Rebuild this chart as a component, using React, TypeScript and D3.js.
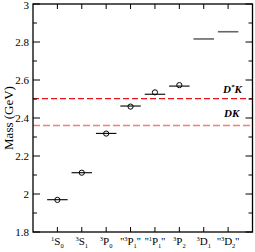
import React from "react";
import * as d3 from "d3";

// states on the x axis: [spin multiplicity, letter, subscript, quoted]
const states = [
  ["1", "S", "0", false],
  ["3", "S", "1", false],
  ["3", "P", "0", false],
  ["3", "P", "1", true],
  ["1", "P", "1", true],
  ["3", "P", "2", false],
  ["3", "D", "1", false],
  ["3", "D", "2", true],
] as const;

// theory masses (lines)
const lineMass = [1.97, 2.112, 2.319, 2.463, 2.525, 2.568, 2.816, 2.854];
// experimental masses (circles)
const expIndex = [0, 1, 2, 3, 4, 5];
const expMass = [1.969, 2.112, 2.318, 2.46, 2.535, 2.573];

const thresholds = [
  { name: "D*K", mass: 2.502 },
  { name: "DK", mass: 2.361 },
];

const yMajor = [1.8, 2, 2.2, 2.4, 2.6, 2.8, 3];

export default function App() {
  const width = 255;
  const height = 252;
  const margin = { top: 4, right: 2.5, bottom: 20, left: 33 };

  const x = d3.scaleLinear().domain([0, 9]).range([margin.left, width - margin.right]);
  const y = d3.scaleLinear().domain([1.8, 3]).range([height - margin.bottom, margin.top]);
  const yMinor = d3.range(1.8, 3.001, 0.1).filter((v) => Math.abs(v * 5 - Math.round(v * 5)) > 0.01);

  const x0 = x(0);
  const x1 = x(9);
  const y0 = y(1.8);
  const y1 = y(3);
  const half = 0.42;
  const font = "'Liberation Serif', 'Times New Roman', serif";

  return (
    <svg width={width} height={height} style={{ position: "absolute", left: 0, top: 0, fontFamily: font }}>
      {/* thresholds */}
      <line x1={x0} x2={x1} y1={y(thresholds[0].mass)} y2={y(thresholds[0].mass)} stroke="#e8141c" strokeWidth={1.2} strokeDasharray="6,3" />
      <line x1={x0} x2={x1} y1={y(thresholds[1].mass)} y2={y(thresholds[1].mass)} stroke="#f37c7c" strokeWidth={1.5} strokeDasharray="7,3" />
      <text x={223} y={y(thresholds[0].mass) - 6} fontSize={11} fontStyle="italic" fontWeight="bold">
        D<tspan fontSize={7} dy={-4}>*</tspan>
        <tspan dy={4}>K</tspan>
      </text>
      <text x={224} y={y(thresholds[1].mass) - 8} fontSize={11} fontStyle="italic" fontWeight="bold">
        DK
      </text>

      {/* mass lines */}
      {lineMass.map((m, i) => (
        <line
          key={i}
          x1={x(i + 1 - half)}
          x2={x(i + 1 + half)}
          y1={y(m)}
          y2={y(m)}
          stroke={i >= 6 ? "#666" : "#000"}
          strokeWidth={i >= 6 ? 1.6 : 1.1}
        />
      ))}
      {expIndex.map((k, i) => (
        <circle key={i} cx={x(k + 1)} cy={y(expMass[i])} r={2.6} fill="none" stroke="#000" strokeWidth={1} />
      ))}

      {/* frame */}
      <rect x={x0} y={y1} width={x1 - x0} height={y0 - y1} fill="none" stroke="#000" strokeWidth={1.3} />

      {/* y ticks */}
      {yMajor.map((v) => (
        <g key={v}>
          <line x1={x0} x2={x0 + 7} y1={y(v)} y2={y(v)} stroke="#000" />
          <line x1={x1} x2={x1 - 7} y1={y(v)} y2={y(v)} stroke="#000" />
          <text x={x0 - 4} y={Math.max(y(v), 5)} dy="0.35em" textAnchor="end" fontSize={11}>
            {d3.format("")(Math.round(v * 10) / 10)}
          </text>
        </g>
      ))}
      {yMinor.map((v) => (
        <g key={v}>
          <line x1={x0} x2={x0 + 4} y1={y(v)} y2={y(v)} stroke="#000" />
          <line x1={x1} x2={x1 - 4} y1={y(v)} y2={y(v)} stroke="#000" />
        </g>
      ))}

      {/* x ticks and labels */}
      {states.map((s, i) => (
        <g key={i}>
          <line x1={x(i + 1)} x2={x(i + 1)} y1={y0} y2={y0 - 5} stroke="#000" />
          <line x1={x(i + 1)} x2={x(i + 1)} y1={y1} y2={y1 + 5} stroke="#000" />
          <text x={x(i + 1)} y={245} textAnchor="middle" fontSize={11}>
            {s[3] ? "''" : ""}
            <tspan fontSize={6.5} dy={-4.5}>{s[0]}</tspan>
            <tspan dy={4.5}>{s[1]}</tspan>
            <tspan fontSize={6.5} dy={3}>{s[2]}</tspan>
            <tspan dy={-3}>{s[3] ? "''" : ""}</tspan>
          </text>
        </g>
      ))}

      <text transform={`translate(13,${(y0 + y1) / 2}) rotate(-90)`} textAnchor="middle" fontSize={13}>
        Mass (GeV)
      </text>
    </svg>
  );
}
